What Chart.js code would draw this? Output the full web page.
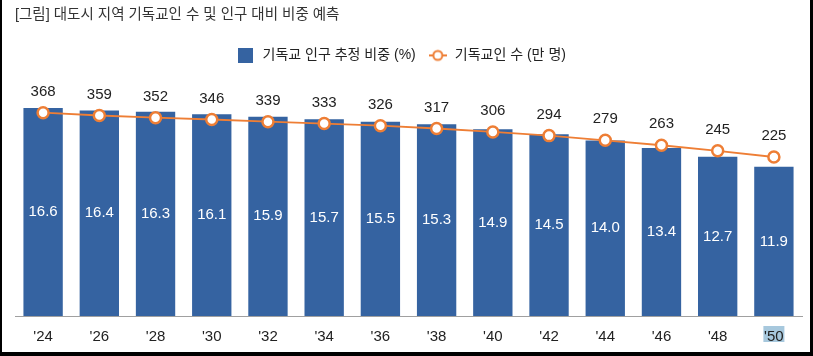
<!DOCTYPE html>
<html>
<head>
<meta charset="utf-8">
<script src="https://cdn.jsdelivr.net/npm/chart.js@4.4.1/dist/chart.umd.min.js"></script>
<style>
html,body{margin:0;padding:0;background:#fff;}
#wrap{width:813px;height:356px;position:relative;}
canvas{display:block;}
</style>
</head>
<body>
<div id="wrap"><canvas id="c" width="813" height="356"></canvas></div>
<script>
// ---- data ----
const categories = ["'24","'26","'28","'30","'32","'34","'36","'38","'40","'42","'44","'46","'48","'50"];
const shareValues = [16.6,16.4,16.3,16.1,15.9,15.7,15.5,15.3,14.9,14.5,14.0,13.4,12.7,11.9];
const countValues = [368,359,352,346,339,333,326,317,306,294,279,263,245,225];
const titleText = '[그림] 대도시 지역 기독교인 수 및 인구 대비 비중 예측';
const shareLabel = '기독교 인구 추정 비중 (%)';
const countLabel = '기독교인 수 (만 명)';
const highlightCategory = "'50";

// ---- styles ----
const BAR_COLOR = '#3563a1';
const LINE_COLOR = '#ee7e35';
const TEXT_COLOR = '#222222';
const FONT = '"Liberation Sans", "Noto Sans CJK KR", sans-serif';

function makeSquareIcon() {
  const c = document.createElement('canvas');
  c.width = 15; c.height = 15;
  const x = c.getContext('2d');
  x.fillStyle = BAR_COLOR;
  x.fillRect(0, 0, 15, 15);
  return c;
}
function makeLineIcon() {
  const c = document.createElement('canvas');
  c.width = 18; c.height = 14;
  const x = c.getContext('2d');
  x.strokeStyle = LINE_COLOR;
  x.lineWidth = 2;
  x.beginPath(); x.moveTo(0, 7); x.lineTo(18, 7); x.stroke();
  x.beginPath(); x.arc(9, 7, 4.5, 0, Math.PI * 2);
  x.fillStyle = '#fff'; x.fill();
  x.lineWidth = 2; x.stroke();
  return c;
}
const squareIcon = makeSquareIcon();
const lineIcon = makeLineIcon();

const valueLabels = {
  id: 'valueLabels',
  afterDatasetsDraw(chart) {
    const ctx = chart.ctx;
    ctx.save();
    ctx.textAlign = 'center';
    ctx.textBaseline = 'middle';
    ctx.font = '15px ' + FONT;
    const barMeta = chart.getDatasetMeta(0);
    ctx.fillStyle = '#ffffff';
    barMeta.data.forEach((el, i) => {
      const v = chart.data.datasets[0].data[i];
      ctx.fillText(v.toFixed(1), el.x, (el.y + el.base) / 2);
    });
    const lineMeta = chart.getDatasetMeta(1);
    ctx.fillStyle = TEXT_COLOR;
    lineMeta.data.forEach((el, i) => {
      const v = chart.data.datasets[1].data[i];
      ctx.fillText(String(v), el.x, el.y - 21);
    });
    ctx.restore();
  }
};

const highlightTick = {
  id: 'highlightTick',
  beforeDraw(chart) {
    const ctx = chart.ctx;
    ctx.save();
    ctx.fillStyle = '#ffffff';
    ctx.fillRect(0, 0, chart.width, chart.height);
    const xs = chart.scales.x;
    const idx = categories.indexOf(highlightCategory);
    if (idx >= 0) {
      const cx = xs.getPixelForTick(idx);
      ctx.fillStyle = '#a7c8dd';
      ctx.fillRect(cx - 10.5, xs.top + 10, 21, 16);
    }
    ctx.restore();
  },
  afterDraw(chart) {
    const ctx = chart.ctx;
    ctx.save();
    ctx.fillStyle = '#000';
    ctx.fillRect(0, 0, 2, chart.height);
    ctx.fillRect(chart.width - 3, 0, 3, chart.height);
    ctx.fillRect(0, chart.height - 4, chart.width, 4);
    ctx.restore();
  }
};

new Chart(document.getElementById('c'), {
  data: {
    labels: categories,
    datasets: [
      {
        type: 'bar',
        label: shareLabel,
        data: shareValues,
        backgroundColor: BAR_COLOR,
        barPercentage: 0.7,
        categoryPercentage: 1.0,
        yAxisID: 'y',
        order: 2
      },
      {
        type: 'line',
        label: countLabel,
        data: countValues,
        borderColor: LINE_COLOR,
        borderWidth: 1.8,
        pointRadius: 5.5,
        pointBorderWidth: 2.5,
        pointBackgroundColor: '#ffffff',
        pointBorderColor: LINE_COLOR,
        yAxisID: 'y1',
        order: 1
      }
    ]
  },
  options: {
    responsive: false,
    animation: false,
    devicePixelRatio: 1,
    layout: { padding: { left: 15, right: 11, top: 2, bottom: 6 } },
    plugins: {
      tooltip: { enabled: false },
      title: {
        display: true,
        text: titleText,
        align: 'start',
        color: '#333333',
        font: { family: FONT, size: 14.5, weight: 'normal' },
        padding: { top: 4, bottom: 13 }
      },
      legend: {
        display: true,
        position: 'top',
        labels: {
          usePointStyle: true,
          pointStyleWidth: 20,
          boxHeight: 15,
          padding: 12,
          color: TEXT_COLOR,
          font: { family: FONT, size: 14 },
          generateLabels() {
            return [
              { text: shareLabel, pointStyle: squareIcon, fillStyle: BAR_COLOR, strokeStyle: BAR_COLOR, lineWidth: 0, hidden: false, datasetIndex: 0, fontColor: TEXT_COLOR },
              { text: countLabel + '    ', pointStyle: lineIcon, fillStyle: '#fff', strokeStyle: LINE_COLOR, lineWidth: 0, hidden: false, datasetIndex: 1, fontColor: TEXT_COLOR }
            ];
          }
        }
      }
    },
    scales: {
      x: {
        grid: { display: false },
        border: { display: true, color: '#a0a0a0', width: 1 },
        ticks: { color: TEXT_COLOR, font: { family: FONT, size: 15 }, padding: 4 }
      },
      y: { display: false, min: 0, max: 19.43 },
      y1: { display: false, min: -288, max: 498 }
    }
  },
  plugins: [valueLabels, highlightTick]
});
</script>
</body>
</html>
